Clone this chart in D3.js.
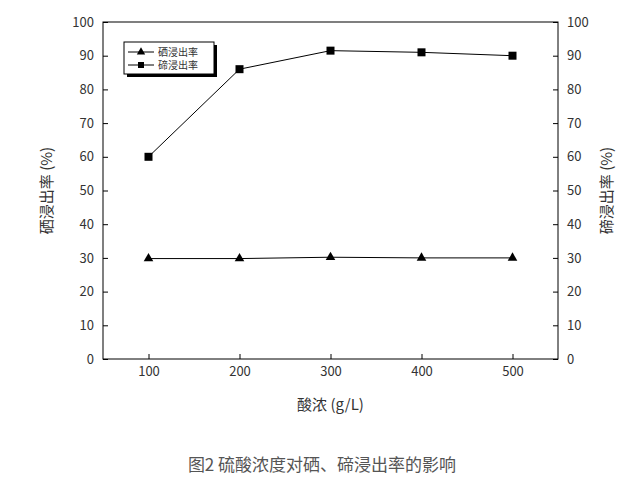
<!DOCTYPE html>
<html><head><meta charset="utf-8">
<script src="https://cdn.jsdelivr.net/npm/d3@7"></script>
<style>body{margin:0;background:#fff}text{font-family:"Noto Sans CJK SC","DejaVu Sans",sans-serif}</style>
</head><body><div id="chart"></div>
<script>
const acid = [100, 200, 300, 400, 500];
const seRate = [29.8, 29.8, 30.2, 30, 30];
const teRate = [60, 86, 91.5, 91, 90];
const yTicks = [0, 10, 20, 30, 40, 50, 60, 70, 80, 90, 100];

const width = 644, height = 503;
const pLeft = 103, pRight = 558, pTop = 22, pBottom = 359;
const svg = d3.select("#chart").append("svg").attr("width", width).attr("height", height);

const x = d3.scaleLinear().domain([50, 550]).range([pLeft, pRight]);
const y = d3.scaleLinear().domain([0, 100]).range([pBottom, pTop]);

svg.append("rect").attr("x", pLeft).attr("y", pTop).attr("width", pRight - pLeft).attr("height", pBottom - pTop)
  .attr("fill", "none").attr("stroke", "#000");

const fs = "13px";
svg.append("g").attr("transform", `translate(0,${pBottom})`)
  .call(d3.axisBottom(x).tickValues(acid).tickSize(-5).tickPadding(8))
  .call(g => { g.select(".domain").remove(); g.selectAll("text").style("font-size", fs).attr("fill", "#333"); });
svg.append("g").attr("transform", `translate(${pLeft},0)`)
  .call(d3.axisLeft(y).tickValues(yTicks).tickSize(-5).tickPadding(9))
  .call(g => { g.select(".domain").remove(); g.selectAll("text").style("font-size", fs).attr("fill", "#333"); });
svg.append("g").attr("transform", `translate(${pRight},0)`)
  .call(d3.axisRight(y).tickValues(yTicks).tickSize(-5).tickPadding(9))
  .call(g => { g.select(".domain").remove(); g.selectAll("text").style("font-size", fs).attr("fill", "#333"); });

const line = d3.line().x((d, i) => x(acid[i])).y(d => y(d));
svg.append("path").datum(seRate).attr("d", line).attr("fill", "none").attr("stroke", "#000");
svg.append("path").datum(teRate).attr("d", line).attr("fill", "none").attr("stroke", "#000");
svg.selectAll(".tri").data(seRate).enter().append("path")
  .attr("transform", (d, i) => `translate(${x(acid[i])},${y(d)})`)
  .attr("d", d3.symbol(d3.symbolTriangle, 40));
svg.selectAll(".sq").data(teRate).enter().append("rect")
  .attr("x", (d, i) => x(acid[i]) - 4).attr("y", d => y(d) - 4).attr("width", 8).attr("height", 8);

// legend
const lg = svg.append("g").attr("transform", "translate(124,42)");
lg.append("rect").attr("x", 3).attr("y", 3).attr("width", 90).attr("height", 32).attr("fill", "#000");
lg.append("rect").attr("width", 90).attr("height", 32).attr("fill", "#fff").attr("stroke", "#000");
[["硒浸出率", "tri"], ["碲浸出率", "sq"]].forEach(([lab, t], i) => {
  const yy = 10 + i * 13;
  lg.append("line").attr("x1", 4).attr("x2", 30).attr("y1", yy).attr("y2", yy).attr("stroke", "#000");
  if (t === "tri") lg.append("path").attr("transform", `translate(17,${yy})`).attr("d", d3.symbol(d3.symbolTriangle, 30));
  else lg.append("rect").attr("x", 14).attr("y", yy - 3).attr("width", 6).attr("height", 6);
  lg.append("text").attr("x", 34).attr("y", yy + 4).style("font-size", "10px").attr("fill", "#333").text(lab);
});

svg.append("text").attr("x", (pLeft + pRight) / 2).attr("y", 410).attr("text-anchor", "middle")
  .style("font-size", "15px").attr("fill", "#333").text("酸浓 (g/L)");
svg.append("text").attr("transform", `translate(52,${(pTop + pBottom) / 2}) rotate(-90)`).attr("text-anchor", "middle")
  .style("font-size", "15px").attr("fill", "#333").text("硒浸出率 (%)");
svg.append("text").attr("transform", `translate(612,${(pTop + pBottom) / 2}) rotate(-90)`).attr("text-anchor", "middle")
  .style("font-size", "15px").attr("fill", "#333").text("碲浸出率 (%)");
svg.append("text").attr("x", 322).attr("y", 471).attr("text-anchor", "middle")
  .style("font-size", "17px").attr("fill", "#555").text("图2  硫酸浓度对硒、碲浸出率的影响");
</script></body></html>
